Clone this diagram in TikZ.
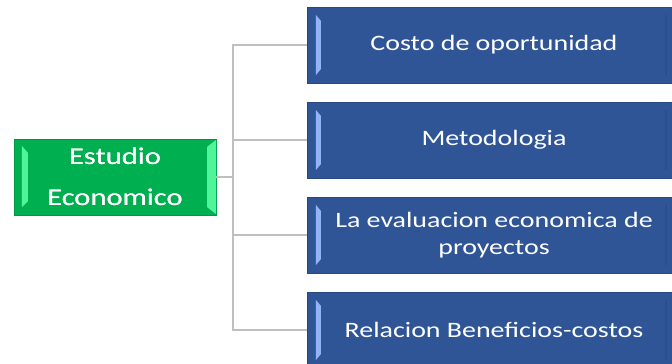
\documentclass[tikz,border=0pt]{standalone}
\usepackage{fontspec}
\setmainfont{Carlito}[FakeStretch=1.27]
\usetikzlibrary{calc,positioning}

\definecolor{azul}{RGB}{47,85,151}
\definecolor{azulclaro}{RGB}{143,180,248}
\definecolor{azuloscuro}{RGB}{40,72,130}
\definecolor{verde}{RGB}{0,176,80}
\definecolor{verdeclaro}{RGB}{80,245,155}
\definecolor{verdeoscuro}{RGB}{0,150,70}
\definecolor{linea}{RGB}{191,191,191}

\begin{document}
\begin{tikzpicture}[x=1pt,y=-1pt,
    tema/.style={rectangle, draw=azuloscuro, fill=azul, text=white, inner sep=0pt,
                 minimum width=374pt, minimum height=76pt, align=center,
                 font=\fontsize{22}{27}\selectfont},
    raiz/.style={rectangle, draw=verdeoscuro, fill=verde, text=white, inner sep=0pt,
                 minimum width=202pt, minimum height=76pt, align=center,
                 font=\fontsize{24}{41}\selectfont},
    rama/.style={draw=linea, line width=1.6pt}]
        \useasboundingbox (0,0) rectangle (672,364);

        % Nodo principal
        \node[raiz] (est) at (115,177) {Estudio\\Economico};

        % Temas
        \node[tema] (c1) at (494,45)  {Costo de oportunidad};
        \node[tema] (c2) at (494,140) {Metodologia};
        \node[tema] (c3) at (494,235) {La evaluacion economica de\\proyectos};
        \node[tema] (c4) at (494,330) {Relacion Beneficios-costos};

        % Biseles
        \foreach \n in {c1,c2,c3,c4} {
            \fill[azulclaro] ($(\n.north west)+(9,8)$) -- ($(\n.north west)+(14,14)$)
                -- ($(\n.south west)+(14,-14)$) -- ($(\n.south west)+(9,-8)$) -- cycle;
            \fill[azuloscuro, opacity=0.5] ($(\n.north east)+(-16,8)$) -- ($(\n.north east)+(-14,8)$)
                -- ($(\n.south east)+(-14,-8)$) -- ($(\n.south east)+(-16,-8)$) -- cycle;
        }
        \fill[verdeclaro] ($(est.north east)+(0,1)$) -- ($(est.north east)+(-9,8)$)
            -- ($(est.south east)+(-9,-8)$) -- ($(est.south east)+(0,-1)$) -- cycle;
        \fill[verdeclaro] ($(est.north west)+(8,7)$) -- ($(est.north west)+(14,14)$)
            -- ($(est.south west)+(14,-14)$) -- ($(est.south west)+(8,-8)$) -- cycle;
        \node[raiz, draw=none, fill=none] at (est) {Estudio\\Economico};

        % Conectores
        \coordinate (tronco) at (233,177);
        \draw[rama] (est.east) -- (tronco);
        \foreach \n in {c1,c2,c3,c4} \draw[rama] (tronco) |- (\n.west);
\end{tikzpicture}
\end{document}
